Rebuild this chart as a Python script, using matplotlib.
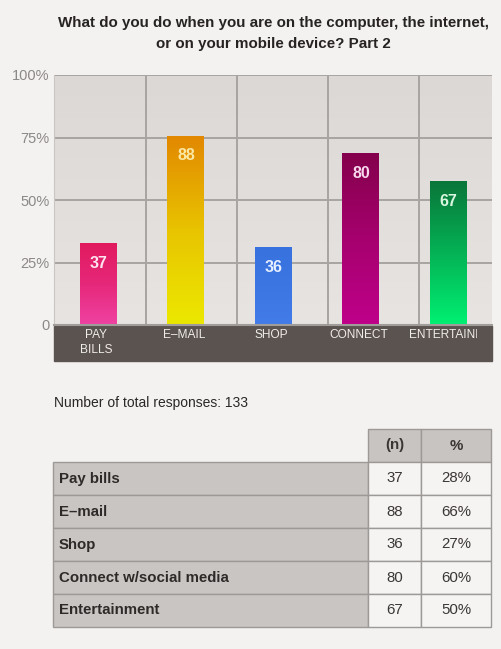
import numpy as np
import matplotlib
matplotlib.use("Agg")
import matplotlib.pyplot as plt
from matplotlib.patches import Rectangle
from matplotlib.colors import LinearSegmentedColormap
from matplotlib.transforms import Bbox, TransformedBbox

plt.rcParams['font.family'] = ['Liberation Sans', 'DejaVu Sans']

# data
title = "What do you do when you are on the computer, the internet,\nor on your mobile device? Part 2"
bar_labels = ["PAY\nBILLS", "E\u2013MAIL", "SHOP", "CONNECT", "ENTERTAINMENT"]
bar_heights = [32.8, 75.6, 31.0, 68.8, 57.6]   # % as drawn in the chart
bar_counts = [37, 88, 36, 80, 67]
y_ticks = [0, 25, 50, 75, 100]
y_ticklabels = ["0", "25%", "50%", "75%", "100%"]
total_responses = 133

table_labels = ["Pay bills", "E\u2013mail", "Shop", "Connect w/social media", "Entertainment"]
table_n = [37, 88, 36, 80, 67]
table_pct = ["28%", "66%", "27%", "60%", "50%"]
table_header = ["(n)", "%"]

# colours (top, middle, bottom) for each bar gradient and value text
bar_grads = [
    ["#e11a5e", "#e6287a", "#ef42a2"],
    ["#e28800", "#e8c400", "#ece800"],
    ["#3872de", "#3b76e2", "#437ce8"],
    ["#84004c", "#a6006e", "#bf008a"],
    ["#0a763a", "#04b255", "#00f072"],
]
value_colors = ["#fde4ef", "#fbe8a4", "#e6eeff", "#f8d8ec", "#d8f6e0"]

W, H = 502, 649
fig = plt.figure(figsize=(W / 100, H / 100), dpi=100)
fig.patch.set_facecolor("#f3f2f1")

# overlay axes in pixel coordinates for band, title and table
ov = fig.add_axes([0, 0, 1, 1])
ov.set_xlim(0, W)
ov.set_ylim(H, 0)
ov.axis("off")

fig.text(273 / W, 1 - 33.5 / H, title, ha="center", va="center", fontsize=10.9,
         fontweight="bold", color="#262322", linespacing=1.55)

# chart axes
px_left, px_right, px_top, px_base = 54, 492, 75, 325
ax = fig.add_axes([px_left / W, 1 - px_base / H, (px_right - px_left) / W, (px_base - px_top) / H])
ppu = 87.5
x0 = 98.5
xlim = ((px_left - x0) / ppu, (px_right - x0) / ppu)
ax.set_ylim(0, 100)

# background gradient
bg = LinearSegmentedColormap.from_list("bg", ["#e7e4e2", "#dcd8d5"])
ax.imshow(np.linspace(0, 1, 100).reshape(-1, 1), cmap=bg, aspect="auto",
          extent=(*xlim, 0, 100), origin="lower", zorder=0)

grid_c = "#a8a4a1"
for y in y_ticks[1:]:
    ax.axhline(y, color=grid_c, lw=1.4, zorder=1)
for px in [146, 237, 328, 419]:
    ax.axvline((px - x0) / ppu, color=grid_c, lw=1.4, zorder=1)

bw = 37 / ppu
for i, (h, n) in enumerate(zip(bar_heights, bar_counts)):
    cmap = LinearSegmentedColormap.from_list("b%d" % i, bar_grads[i][::-1])
    ax.imshow(np.linspace(0, 1, 100).reshape(-1, 1), cmap=cmap, aspect="auto",
              extent=(i - bw / 2, i + bw / 2, 0, h), origin="lower", zorder=2)
    ax.text(i, h - 8.0, str(n), ha="center", va="center", fontsize=11.5,
            fontweight="bold", color=value_colors[i], zorder=3)

ax.set_xticks([])
ax.set_yticks(y_ticks)
ax.set_yticklabels(y_ticklabels, fontsize=10.5, color="#8c8886")
ax.tick_params(axis="y", length=0, pad=3)
for s in ["top", "right"]:
    ax.spines[s].set_visible(False)
ax.spines["left"].set_color("#c9c6c3")
ax.spines["bottom"].set_color("#a09c99")
ax.spines["bottom"].set_linewidth(1.5)
ax.set_xlim(*xlim)

# dark label band
ov.add_patch(Rectangle((px_left, 326), px_right - px_left, 35, color="#5b534f", zorder=1))
clip_box = TransformedBbox(Bbox([[px_left, 326], [477, 361]]), ov.transData)
for i, lab in enumerate(bar_labels):
    cx = x0 + i * ppu
    for k, line in enumerate(lab.split("\n")):
        if i == len(bar_labels) - 1:
            t = ov.text(409, 335, line, ha="left", va="center", fontsize=8.6,
                        color="#f0ecea", zorder=2)
            t.set_clip_box(clip_box)
            t.set_clip_on(True)
        else:
            ov.text(cx - 2, 335 + 15 * k, line, ha="center", va="center",
                    fontsize=8.6, color="#f0ecea", zorder=2)

ov.text(54, 403, "Number of total responses: %d" % total_responses, ha="left", va="center",
        fontsize=10, color="#2a2726")

# table
col_x = [53, 368, 421, 491]
head_top, row_top, row_h = 429, 462, 33
border = "#9d9996"
for j, hd in enumerate(table_header):
    ov.add_patch(Rectangle((col_x[j + 1], head_top), col_x[j + 2] - col_x[j + 1], row_top - head_top,
                           facecolor="#c8c4c1", edgecolor=border, lw=1))
    ov.text((col_x[j + 1] + col_x[j + 2]) / 2, (head_top + row_top) / 2, hd, ha="center",
            va="center", fontsize=10.8, fontweight="bold", color="#3a3634")
for r, (lab, n, p) in enumerate(zip(table_labels, table_n, table_pct)):
    y = row_top + r * row_h
    ov.add_patch(Rectangle((col_x[0], y), col_x[1] - col_x[0], row_h,
                           facecolor="#c9c5c2", edgecolor=border, lw=1))
    ov.add_patch(Rectangle((col_x[1], y), col_x[2] - col_x[1], row_h,
                           facecolor="#f5f4f3", edgecolor=border, lw=1))
    ov.add_patch(Rectangle((col_x[2], y), col_x[3] - col_x[2], row_h,
                           facecolor="#f5f4f3", edgecolor=border, lw=1))
    ov.text(col_x[0] + 6, y + row_h / 2, lab, ha="left", va="center", fontsize=10.8,
            fontweight="bold", color="#2e2a29")
    ov.text((col_x[1] + col_x[2]) / 2, y + row_h / 2, str(n), ha="center", va="center",
            fontsize=10.8, color="#3a3634")
    ov.text((col_x[2] + col_x[3]) / 2, y + row_h / 2, p, ha="center", va="center",
            fontsize=10.8, color="#3a3634")

fig.savefig("out.png", dpi=100, facecolor=fig.get_facecolor())
